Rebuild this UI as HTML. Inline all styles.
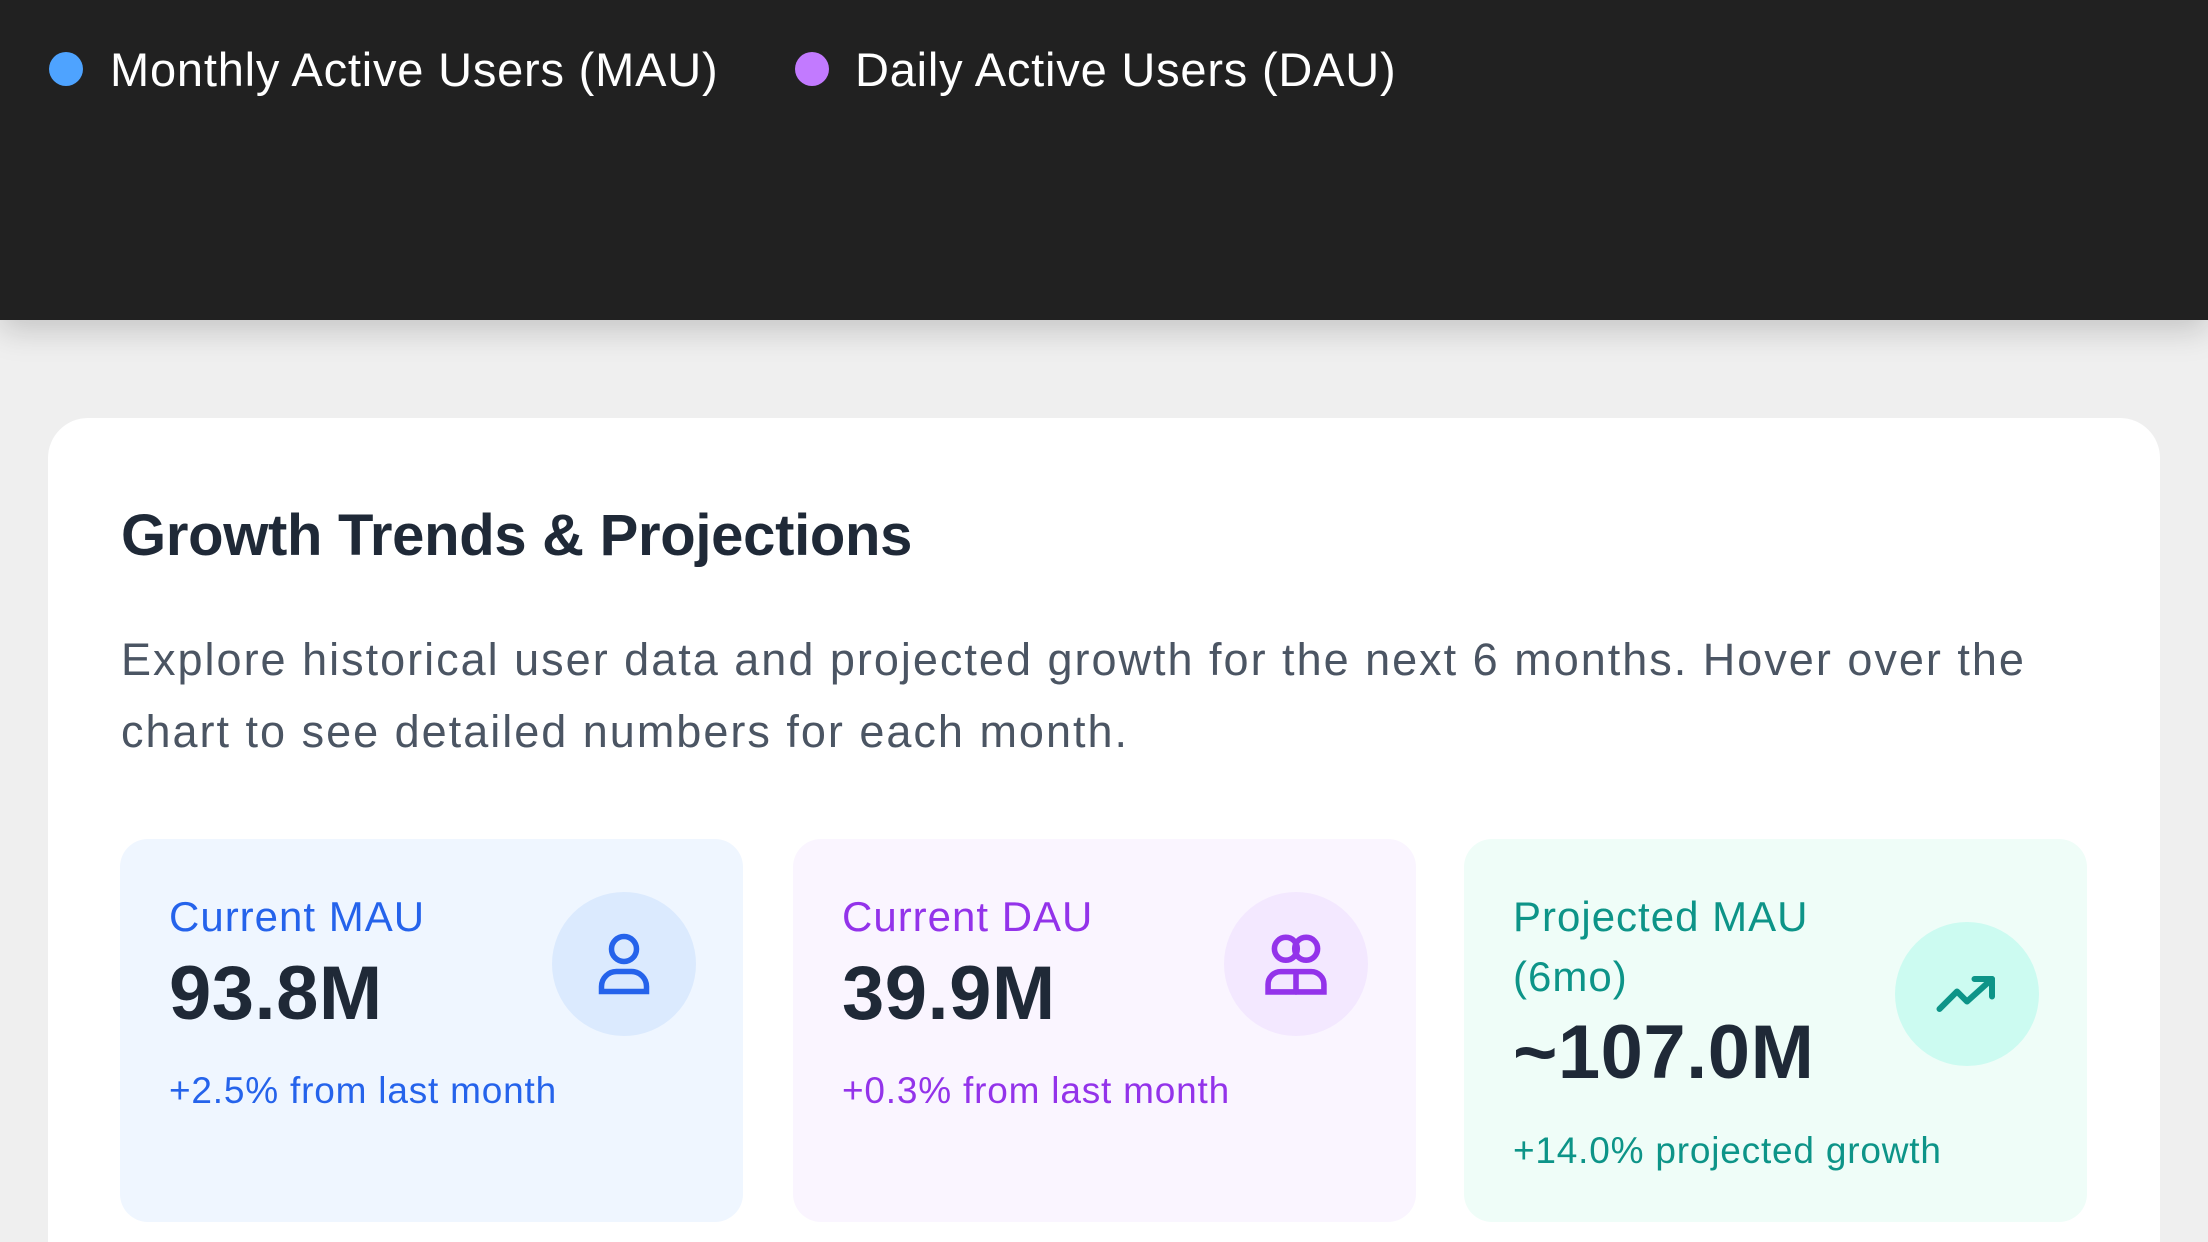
<!DOCTYPE html>
<html><head><meta charset="utf-8"><style>
*{margin:0;padding:0;box-sizing:border-box}
html,body{width:2208px;height:1242px;overflow:hidden}
body{background:#efefef;font-family:"Liberation Sans",sans-serif;position:relative}
.abs{position:absolute}
#hdr{left:0;top:0;width:2208px;height:320px;background:#212121;box-shadow:0 10px 30px rgba(0,0,0,.18)}
.dot{position:absolute;width:34px;height:34px;border-radius:50%}
.leg{position:absolute;color:#fff;font-size:47px;line-height:1;white-space:nowrap;letter-spacing:0.8px}
#card{left:48px;top:418px;width:2112px;height:824px;background:#fff;border-radius:40px 40px 0 0}
#title{left:121px;top:502px;font-size:58px;font-weight:bold;color:#1f2937;white-space:nowrap;letter-spacing:-0.3px}
#desc{left:121px;top:624px;width:1980px;font-size:45px;line-height:72px;color:#4b5563;letter-spacing:2px}
.stat{position:absolute;top:839px;height:383px;width:623px;border-radius:28px}
.lbl{position:absolute;left:49px;font-size:42px;line-height:60px;letter-spacing:1px}
.val{position:absolute;left:49px;font-size:76px;font-weight:bold;color:#1f2937;line-height:1;letter-spacing:0.5px}
.sub{position:absolute;left:49px;font-size:37px;line-height:1;letter-spacing:0.8px}
.circ{position:absolute;width:144px;height:144px;border-radius:50%;display:flex;align-items:center;justify-content:center}
</style></head><body>
<div id="hdr" class="abs">
 <div class="dot" style="left:49px;top:52px;background:#4ea3ff"></div>
 <div class="leg" style="left:110px;top:46px">Monthly Active Users (MAU)</div>
 <div class="dot" style="left:795px;top:52px;background:#c27aff"></div>
 <div class="leg" style="left:855px;top:46px">Daily Active Users (DAU)</div>
</div>
<div id="card" class="abs"></div>
<div id="title" class="abs">Growth Trends &amp; Projections</div>
<div id="desc" class="abs">Explore historical user data and projected growth for the next 6 months. Hover over the<br>chart to see detailed numbers for each month.</div>

<div class="stat" style="left:120px;background:#eff6ff">
 <div class="lbl" style="top:48px;color:#2563eb">Current MAU</div>
 <div class="val" style="top:117px">93.8M</div>
 <div class="sub" style="top:233px;color:#2563eb">+2.5% from last month</div>
 <div class="circ" style="left:432px;top:53px;background:#dbeafe">
  <svg width="60" height="66" viewBox="0 0 24 26" fill="none" stroke="#2563eb" stroke-width="2.2" stroke-linecap="round"><circle cx="12" cy="7" r="5"/><path d="M3 24v-2a6 6 0 0 1 6-6h6a6 6 0 0 1 6 6v2z"/></svg>
 </div>
</div>

<div class="stat" style="left:793px;background:#faf5ff">
 <div class="lbl" style="top:48px;color:#9333ea">Current DAU</div>
 <div class="val" style="top:117px">39.9M</div>
 <div class="sub" style="top:233px;color:#9333ea">+0.3% from last month</div>
 <div class="circ" style="left:431px;top:53px;background:#f3e8ff">
  <svg width="66" height="66" viewBox="0 0 26 26" fill="none" stroke="#9333ea" stroke-width="2.2" stroke-linecap="round"><circle cx="9" cy="7" r="4.5"/><circle cx="17" cy="7" r="4.5"/><path d="M2 24v-3a5 5 0 0 1 5-5h12a5 5 0 0 1 5 5v3z"/><path d="M13 16v8"/></svg>
 </div>
</div>

<div class="stat" style="left:1464px;background:#effdf8">
 <div class="lbl" style="top:48px;color:#0d9488">Projected MAU<br>(6mo)</div>
 <div class="val" style="top:176px">~107.0M</div>
 <div class="sub" style="top:293px;color:#0d9488">+14.0% projected growth</div>
 <div class="circ" style="left:431px;top:83px;background:#ccfbf1">
  <svg width="66" height="40" viewBox="0 0 26 16" fill="none" stroke="#0d9488" stroke-width="2.4" stroke-linecap="round" stroke-linejoin="round"><path d="M2 14l7-7 4 4 10-9"/><path d="M16 2h7v7"/></svg>
 </div>
</div>
</body></html>
